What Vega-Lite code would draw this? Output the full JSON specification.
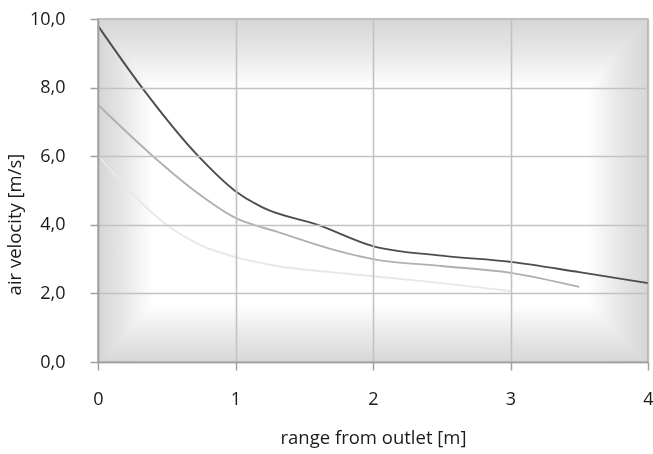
{
  "$schema": "https://vega.github.io/schema/vega-lite/v6.json",
  "width": 550,
  "height": 343,
  "autosize": {"type": "none"},
  "padding": {"left": 98, "top": 19, "right": 5, "bottom": 92},
  "background": "white",
  "config": {
    "font": "Open Sans",
    "view": {
      "stroke": "#a8a8a8",
      "strokeWidth": 1.5,
      "fill": {
        "gradient": "linear",
        "x1": 0, "y1": 0, "x2": 1, "y2": 0,
        "stops": [
          {"offset": 0, "color": "#d5d5d5"},
          {"offset": 0.04, "color": "#e4e4e4"},
          {"offset": 0.1, "color": "#ffffff"},
          {"offset": 0.89, "color": "#ffffff"},
          {"offset": 0.95, "color": "#e6e6e6"},
          {"offset": 1, "color": "#d6d6d6"}
        ]
      }
    },
    "axis": {
      "zindex": 1,
      "domainColor": "#a0a0a0",
      "domainWidth": 1.5,
      "tickColor": "#a0a0a0",
      "tickWidth": 1.5,
      "tickSize": 8,
      "gridColor": "#c2c2c2",
      "gridWidth": 1.6,
      "labelFont": "Open Sans",
      "labelFontSize": 18,
      "labelColor": "#1a1a1a",
      "titleFont": "Open Sans",
      "titleFontSize": 18.5,
      "titleFontWeight": "normal",
      "titleColor": "#1a1a1a"
    }
  },
  "layer": [
    {
      "data": {"values": [{}]},
      "mark": {
        "type": "rect",
        "blend": "darken",
        "fill": {
          "gradient": "linear",
          "x1": 0, "y1": 0, "x2": 0, "y2": 1,
          "stops": [
            {"offset": 0, "color": "#d6d6d6"},
            {"offset": 0.08, "color": "#e4e4e4"},
            {"offset": 0.2, "color": "#ffffff"},
            {"offset": 0.83, "color": "#ffffff"},
            {"offset": 0.93, "color": "#e6e6e6"},
            {"offset": 1, "color": "#d8d8d8"}
          ]
        }
      },
      "encoding": {
        "x": {"datum": 0, "type": "quantitative"},
        "x2": {"datum": 4},
        "y": {"datum": 0, "type": "quantitative"},
        "y2": {"datum": 10}
      }
    },
    {
      "data": {
        "values": [
          {"series": "dark", "range": 0, "velocity": 9.8},
          {"series": "dark", "range": 0.32, "velocity": 8.0},
          {"series": "dark", "range": 0.73, "velocity": 6.0},
          {"series": "dark", "range": 1.0, "velocity": 4.98},
          {"series": "dark", "range": 1.2, "velocity": 4.5},
          {"series": "dark", "range": 1.6, "velocity": 4.0},
          {"series": "dark", "range": 2.0, "velocity": 3.38},
          {"series": "dark", "range": 2.5, "velocity": 3.1},
          {"series": "dark", "range": 3.0, "velocity": 2.92},
          {"series": "dark", "range": 3.5, "velocity": 2.62},
          {"series": "dark", "range": 4.0, "velocity": 2.3},
          {"series": "medium", "range": 0, "velocity": 7.5},
          {"series": "medium", "range": 0.4, "velocity": 6.0},
          {"series": "medium", "range": 0.7, "velocity": 5.0},
          {"series": "medium", "range": 1.0, "velocity": 4.2},
          {"series": "medium", "range": 1.3, "velocity": 3.8},
          {"series": "medium", "range": 1.69, "velocity": 3.3},
          {"series": "medium", "range": 2.0, "velocity": 3.0},
          {"series": "medium", "range": 2.5, "velocity": 2.8},
          {"series": "medium", "range": 3.0, "velocity": 2.6},
          {"series": "medium", "range": 3.5, "velocity": 2.19},
          {"series": "light", "range": 0, "velocity": 6.03},
          {"series": "light", "range": 0.25, "velocity": 4.9},
          {"series": "light", "range": 0.5, "velocity": 4.0},
          {"series": "light", "range": 0.75, "velocity": 3.4},
          {"series": "light", "range": 1.0, "velocity": 3.06},
          {"series": "light", "range": 1.3, "velocity": 2.8},
          {"series": "light", "range": 1.69, "velocity": 2.62},
          {"series": "light", "range": 2.0, "velocity": 2.5},
          {"series": "light", "range": 2.5, "velocity": 2.3},
          {"series": "light", "range": 3.0, "velocity": 2.07}
        ]
      },
      "mark": {"type": "line", "interpolate": "monotone", "strokeWidth": 1.9},
      "encoding": {
        "x": {
          "field": "range",
          "type": "quantitative",
          "scale": {"domain": [0, 4], "nice": false},
          "axis": {
            "title": "range from outlet [m]",
            "values": [0, 1, 2, 3, 4],
            "format": "d",
            "zindex": 1,
            "grid": true,
            "labelPadding": 20,
            "labelFlush": false,
            "titleY": 81,
            "titleBaseline": "alphabetic"
          }
        },
        "y": {
          "field": "velocity",
          "type": "quantitative",
          "scale": {"domain": [0, 10], "nice": false},
          "axis": {
            "title": "air velocity [m/s]",
            "values": [0, 2, 4, 6, 8, 10],
            "labelExpr": "replace(format(datum.value, '.1f'), '.', ',')",
            "zindex": 1,
            "grid": true,
            "labelPadding": 25,
            "titleX": -78,
            "titleY": 205,
            "titleAngle": -90,
            "titleBaseline": "alphabetic",
            "titleAlign": "center"
          }
        },
        "color": {
          "field": "series",
          "type": "nominal",
          "scale": {"domain": ["dark", "medium", "light"], "range": ["#4d4d4d", "#b0b0b0", "#e8e8e8"]},
          "legend": null
        },
        "order": {"field": "range", "type": "quantitative"}
      }
    }
  ]
}
